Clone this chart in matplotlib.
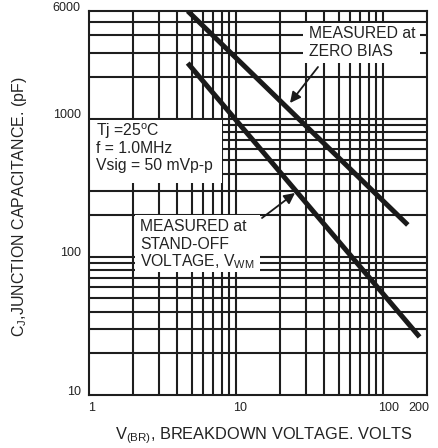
import matplotlib
matplotlib.use("Agg")
import matplotlib.pyplot as plt
import matplotlib.transforms as mtransforms
import numpy as np

plt.rcParams['font.family'] = ['Liberation Sans', 'DejaVu Sans']
plt.rcParams['mathtext.fontset'] = 'custom'
plt.rcParams['mathtext.rm'] = 'Liberation Sans'

# Data
zero_bias_v = [4.7, 148]
zero_bias_c = [6000, 170]
standoff_v = [4.7, 178]
standoff_c = [2520, 26.3]

x_ticks = [1, 10, 100, 200]
x_tick_labels = ["1", "10", "100", "200"]
y_ticks = [10, 100, 1000, 6000]
y_tick_labels = ["10", "100", "1000", "6000"]

x_grid = [2, 3, 4, 5, 6, 7, 8, 9, 10, 20, 30, 40, 50, 60, 70, 80, 90, 100]
y_grid = [20, 30, 40, 50, 60, 70, 80, 90, 100, 200, 300, 400, 500, 600, 700, 800, 900,
          1000, 2000, 3000, 4000, 5000]

W, H = 438, 448
fig = plt.figure(figsize=(W / 100, H / 100), dpi=100)
ax = fig.add_axes([89 / W, 1 - 395 / H, (427 - 89) / W, (395 - 11) / H])
ax.set_xscale('log')
ax.set_yscale('log')
ax.set_xlim(1, 200)
ax.set_ylim(10, 6000)

gc = '#1e1e1e'
for xv in x_grid:
    ax.axvline(xv, color=gc, lw=1.5, zorder=1)
for yv in y_grid:
    ax.axhline(yv, color=gc, lw=1.5, zorder=1)
for s in ax.spines.values():
    s.set_color(gc)
    s.set_linewidth(1.5)
    s.set_zorder(6)

ax.plot(zero_bias_v, zero_bias_c, color='#1a1a1a', lw=3.6, solid_capstyle='butt', zorder=4, clip_on=True)
ax.plot(standoff_v, standoff_c, color='#1a1a1a', lw=3.6, solid_capstyle='butt', zorder=4, clip_on=True)

tc = '#222222'
ax.set_xticks(x_ticks)
ax.set_xticklabels(x_tick_labels, fontsize=9, color=tc)
ax.set_yticks(y_ticks)
ax.set_yticklabels(y_tick_labels, fontsize=9, color=tc)
ax.minorticks_off()
ax.tick_params(length=0)
ax.tick_params(axis='x', pad=5)
ax.tick_params(axis='y', pad=6)
# small offsets to mimic the reference label placement
for lab in ax.get_yticklabels():
    lab.set_transform(lab.get_transform() + mtransforms.ScaledTranslation(0, 5 / 100, fig.dpi_scale_trans))
xoffs = [3, 4, 6, -8]
for lab, dx in zip(ax.get_xticklabels(), xoffs):
    lab.set_transform(lab.get_transform() + mtransforms.ScaledTranslation(dx / 100, 0, fig.dpi_scale_trans))

def px2ax(px, py):
    return ((px - 89) / 338, (395 - py) / 384)

def box(x0, y0, x1, y1):
    a0 = px2ax(x0, y1)
    a1 = px2ax(x1, y0)
    r = plt.Rectangle(a0, a1[0] - a0[0], a1[1] - a0[1], transform=ax.transAxes,
                      facecolor='white', edgecolor='none', zorder=2)
    ax.add_patch(r)

fs = 11.3
# Tj box
box(90, 120, 222, 183)
for i, t in enumerate(["Tj =25$^\\mathregular{o}$C", "f = 1.0MHz", "Vsig = 50 mVp-p"]):
    ax.text(*px2ax(96, 131 + i * 17), t, transform=ax.transAxes, fontsize=fs,
            color=tc, va='center', ha='left', zorder=3)
# Zero bias box
box(303, 23, 420, 63)
for i, t in enumerate(["MEASURED at", "ZERO BIAS"]):
    ax.text(*px2ax(309, 33 + i * 18), t, transform=ax.transAxes, fontsize=fs,
            color=tc, va='center', ha='left', zorder=3)
# Stand-off box
box(135, 215, 260, 272)
for i, t in enumerate(["MEASURED at", "STAND-OFF", "VOLTAGE, V$_\\mathregular{WM}$"]):
    ax.text(*px2ax(140, 226 + i * 18), t, transform=ax.transAxes, fontsize=fs,
            color=tc, va='center', ha='left', zorder=3)

# Arrows
ax.annotate("", xy=px2ax(290, 103), xytext=px2ax(318, 67),
            xycoords='axes fraction', textcoords='axes fraction',
            arrowprops=dict(arrowstyle='-|>', color='#1a1a1a', lw=1.3,
                            mutation_scale=16, shrinkA=0, shrinkB=0), zorder=5)
ax.annotate("", xy=px2ax(295, 193), xytext=px2ax(262, 218),
            xycoords='axes fraction', textcoords='axes fraction',
            arrowprops=dict(arrowstyle='-|>', color='#1a1a1a', lw=1.3,
                            mutation_scale=16, shrinkA=0, shrinkB=0), zorder=5)

fig.text(264 / W, 1 - 436 / H, "V$_\\mathregular{(BR)}$, BREAKDOWN VOLTAGE. VOLTS",
         ha='center', va='center', fontsize=11.8, color=tc)
fig.text(20 / W, 1 - 207 / H, "C$_\\mathregular{J}$,JUNCTION CAPACITANCE. (pF)",
         ha='center', va='center', rotation=90, fontsize=11.5, color=tc)

fig.savefig("out.png", dpi=100)
